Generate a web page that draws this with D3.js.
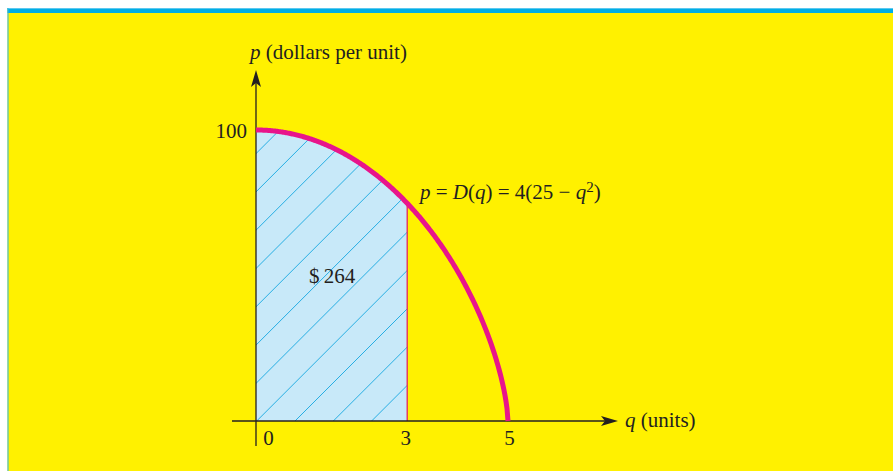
<!DOCTYPE html>
<html>
<head>
<meta charset="utf-8">
<script src="https://cdn.jsdelivr.net/npm/d3@7"></script>
<style>
  body { margin: 0; background: #ffffff; }
  svg { display: block; }
  text { font-family: "Liberation Serif", "DejaVu Serif", serif; fill: #231f20; }
</style>
</head>
<body>
<svg id="chart" width="893" height="471"></svg>
<script>
// Demand curve p = D(q) = a (b - q^2)
const demandA = 4;
const demandB = 25;
const qDomain = [0, 5];
const pDomain = [0, 100];
const xTickValues = [0, 3, 5];
const yTickValues = [100];
const shadedUpTo = 3;           // consumer expenditure for q in [0, 3]
const areaLabel = "$\u2009264";

const D = q => demandA * (demandB - q * q);

// Sampled curve points along q
const qSamples = d3.range(0, 500 + 1, 2).map(i => i / 100);
const curve = qSamples.map(q => ({ q, p: Math.max(0, D(q)) }));
const shaded = qSamples.filter(q => q <= shadedUpTo).map(q => ({ q, p: D(q) }));

const svg = d3.select("#chart");
const fontSize = 21;

// Panel background with top band
svg.append("rect").attr("x", 7.5).attr("y", 8).attr("width", 893 - 7.5).attr("height", 471 - 8)
  .attr("fill", "#fff100");
svg.append("rect").attr("x", 7.5).attr("y", 8).attr("width", 893 - 7.5).attr("height", 5)
  .attr("fill", "#00aee6");
svg.append("rect").attr("x", 7.5).attr("y", 8).attr("width", 893 - 7.5).attr("height", 1)
  .attr("fill", "#5cc8ef");
svg.append("rect").attr("x", 7.5).attr("y", 8).attr("width", 1).attr("height", 471 - 8)
  .attr("fill", "#2ab4e8");

// Scales (the vertical scale is compressed toward the top, as in the sketch)
const x = d3.scaleLinear().domain(qDomain).range([256, 508]);
const y = d3.scalePow().exponent(0.65).domain(pDomain).range([421, 130]);

// Shaded region under the curve from 0 to 3
const areaGen = d3.area().x(d => x(d.q)).y0(y(0)).y1(d => y(d.p));
const defs = svg.append("defs");
defs.append("clipPath").attr("id", "shadeClip")
  .append("path").attr("d", areaGen(shaded));

svg.append("path").attr("d", areaGen(shaded)).attr("fill", "#c8e9f9");

// Diagonal hatch lines inside the region
const hatch = svg.append("g").attr("clip-path", "url(#shadeClip)");
const hatchStep = 38.3;
for (let k = -10; k <= 6; k++) {
  const x0 = 256.7 + k * hatchStep;
  hatch.append("line")
    .attr("x1", x0).attr("y1", y(0))
    .attr("x2", x0 + 400).attr("y2", y(0) - 400)
    .attr("stroke", "#27aee3").attr("stroke-width", 1);
}

// Right edge of the region at q = 3
svg.append("line")
  .attr("x1", x(shadedUpTo)).attr("x2", x(shadedUpTo))
  .attr("y1", y(0)).attr("y2", y(D(shadedUpTo)))
  .attr("stroke", "#e2265e").attr("stroke-width", 1.3);

// Axes lines with arrowheads
const axisColor = "#231f20";
svg.append("line").attr("x1", 232).attr("x2", 606).attr("y1", y(0)).attr("y2", y(0))
  .attr("stroke", axisColor).attr("stroke-width", 1.3);
svg.append("path")
  .attr("d", `M618,${y(0)} L601,${y(0) - 5} L605,${y(0)} L601,${y(0) + 5} Z`)
  .attr("fill", axisColor);
svg.append("line").attr("x1", x(0)).attr("x2", x(0)).attr("y1", 446).attr("y2", 82)
  .attr("stroke", axisColor).attr("stroke-width", 1.3);
svg.append("path")
  .attr("d", `M${x(0)},70 L${x(0) + 5},87 L${x(0)},83 L${x(0) - 5},87 Z`)
  .attr("fill", axisColor);

// Demand curve
svg.append("path")
  .datum(curve)
  .attr("d", d3.line().x(d => x(d.q)).y(d => y(d.p)))
  .attr("fill", "none").attr("stroke", "#e8158b").attr("stroke-width", 5);

// Tick labels
const xAxis = svg.append("g").attr("transform", `translate(0,${y(0)})`)
  .call(d3.axisBottom(x).tickValues(xTickValues).tickSize(0).tickPadding(9).tickFormat(d3.format("d")));
xAxis.select(".domain").remove();
xAxis.selectAll("text").attr("font-size", fontSize).attr("font-family", "Liberation Serif").attr("fill", axisColor)
  .attr("dx", d => d === 0 ? 12 : (d === 3 ? -2 : 1));

const yAxis = svg.append("g").attr("transform", `translate(${x(0)},0)`)
  .call(d3.axisLeft(y).tickValues(yTickValues).tickSize(0).tickPadding(9));
yAxis.select(".domain").remove();
yAxis.selectAll("text").attr("font-size", fontSize).attr("font-family", "Liberation Serif").attr("fill", axisColor)
  .attr("dy", "0.38em");

// Axis titles
const yTitle = svg.append("text").attr("x", 250).attr("y", 59).attr("font-size", fontSize);
yTitle.append("tspan").attr("font-style", "italic").text("p");
yTitle.append("tspan").text(" (dollars per unit)");

const xTitle = svg.append("text").attr("x", 625).attr("y", 427).attr("font-size", fontSize);
xTitle.append("tspan").attr("font-style", "italic").text("q");
xTitle.append("tspan").text(" (units)");

// Curve label
const eq = svg.append("text").attr("x", 420).attr("y", 199).attr("font-size", fontSize);
eq.append("tspan").attr("font-style", "italic").text("p");
eq.append("tspan").text(" = ");
eq.append("tspan").attr("font-style", "italic").text("D");
eq.append("tspan").text("(");
eq.append("tspan").attr("font-style", "italic").text("q");
eq.append("tspan").text(") = 4(25 \u2212 ");
eq.append("tspan").attr("font-style", "italic").text("q");
eq.append("tspan").attr("font-size", 15).attr("dy", -7).text("2");
eq.append("tspan").attr("dy", 7).text(")");

// Area value
svg.append("text").attr("x", 309).attr("y", 283).attr("font-size", fontSize).text(areaLabel);
</script>
</body>
</html>
